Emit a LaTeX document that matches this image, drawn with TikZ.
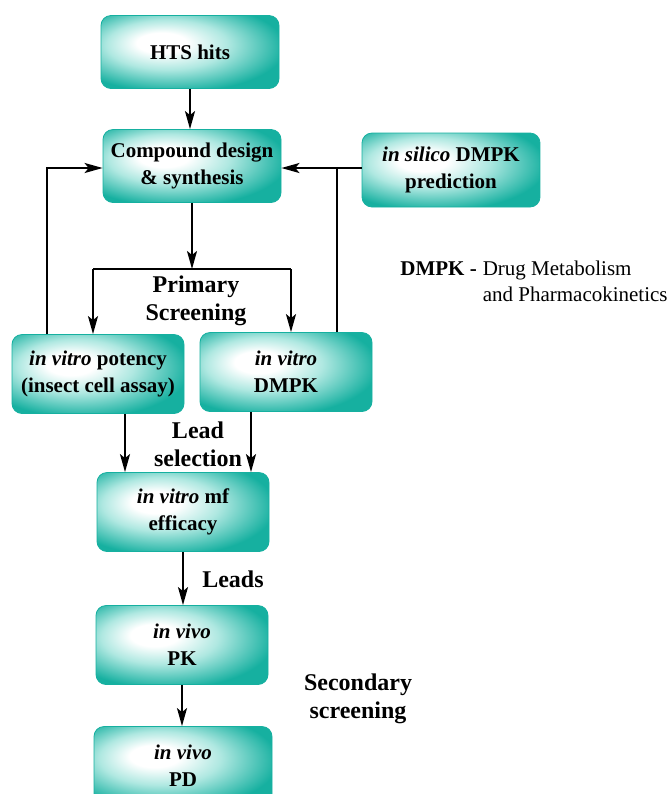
\documentclass[tikz,border=0pt]{standalone}
\usepackage{fontspec}
\setmainfont{Liberation Serif}
\usetikzlibrary{arrows.meta}
\definecolor{tealdark}{RGB}{22,176,160}
\definecolor{teallight}{RGB}{175,232,225}
\pgfdeclareradialshading{tealglow}{\pgfpoint{-9bp}{7bp}}{color(0bp)=(white); color(7bp)=(white); color(17bp)=(teallight); color(31bp)=(tealdark); color(60bp)=(tealdark)}
\tikzset{
  stage/.style={rounded corners=5pt, shade, shading=tealglow, draw=tealdark, line width=0.4pt,
    align=center, font=\fontsize{10.5}{13.5}\selectfont\bfseries,
    minimum width=86pt, minimum height=39.5pt, inner sep=1pt},
  flow/.style={line width=1pt, -{Stealth[length=9pt,width=5pt,inset=2pt]}},
  link/.style={line width=1pt},
  tag/.style={align=center, font=\fontsize{12}{14}\selectfont\bfseries}
}
\begin{document}
\begin{tikzpicture}[x=0.5pt,y=-0.5pt]
\clip (0,0) rectangle (670,794);
\node[stage, minimum width=89pt, minimum height=36.5pt] (hts) at (190,52) {HTS hits};
\node[stage, minimum width=89pt, minimum height=36.5pt] (design) at (192,166) {Compound design\\\& synthesis};
\node[stage, minimum width=89pt, minimum height=37pt] (silico) at (451,170) {\textit{in silico} DMPK\\prediction};
\node[stage] (potency) at (98,374) {\textit{in vitro} potency\\(insect cell assay)};
\node[stage] (vdmpk) at (286,372) {\textit{in vitro}\\DMPK};
\node[stage] (mf) at (183,512) {\textit{in vitro} mf\\efficacy};
\node[stage] (pk) at (182,645) {\textit{in vivo}\\PK};
\node[stage, minimum width=89pt] (pd) at (183,766) {\textit{in vivo}\\PD};

\coordinate (split) at (192,269);
\coordinate (splitL) at (93,269);
\coordinate (splitR) at (291,269);
\coordinate (backL) at (47,168);
\coordinate (backR) at (337,168);

\draw[flow] (hts.south) -- (hts.south |- design.north);
\draw[flow] (design.south) -- (split);
\draw[link] (splitL) -- (splitR);
\draw[flow] (splitL) -- (splitL |- potency.north);
\draw[flow] (splitR) -- (splitR |- vdmpk.north);
\draw[flow] (potency.north -| backL) -- (backL) -- (backL -| design.west);
\draw[link] (vdmpk.north -| backR) -- (backR);
\draw[flow] (silico.west |- backR) -- (backR -| design.east);
\draw[flow] ([xshift=13.5pt]potency.south) -- ([xshift=13.5pt]potency.south |- mf.north);
\draw[flow] ([xshift=-17.5pt]vdmpk.south) -- ([xshift=-17.5pt]vdmpk.south |- mf.north);
\draw[flow] (mf.south) -- (mf.south |- pk.north);
\draw[flow] (pk.south) -- (pk.south |- pd.north);

\node[tag] (primary) at (196,301) {Primary\\Screening};
\node[tag] (leadsel) at (198,444) {Lead\\selection};
\node[tag] (leads) at (233,579) {Leads};
\node[tag] (secondary) at (358,699) {Secondary\\screening};
\node[anchor=west, inner sep=0pt, font=\fontsize{10.5}{13}\selectfont] (legend) at (400,283)
  {\begin{tabular}{@{}l@{\kern3pt}l@{}}\textbf{DMPK -} & Drug Metabolism\\ & and Pharmacokinetics\end{tabular}};
\end{tikzpicture}
\end{document}
